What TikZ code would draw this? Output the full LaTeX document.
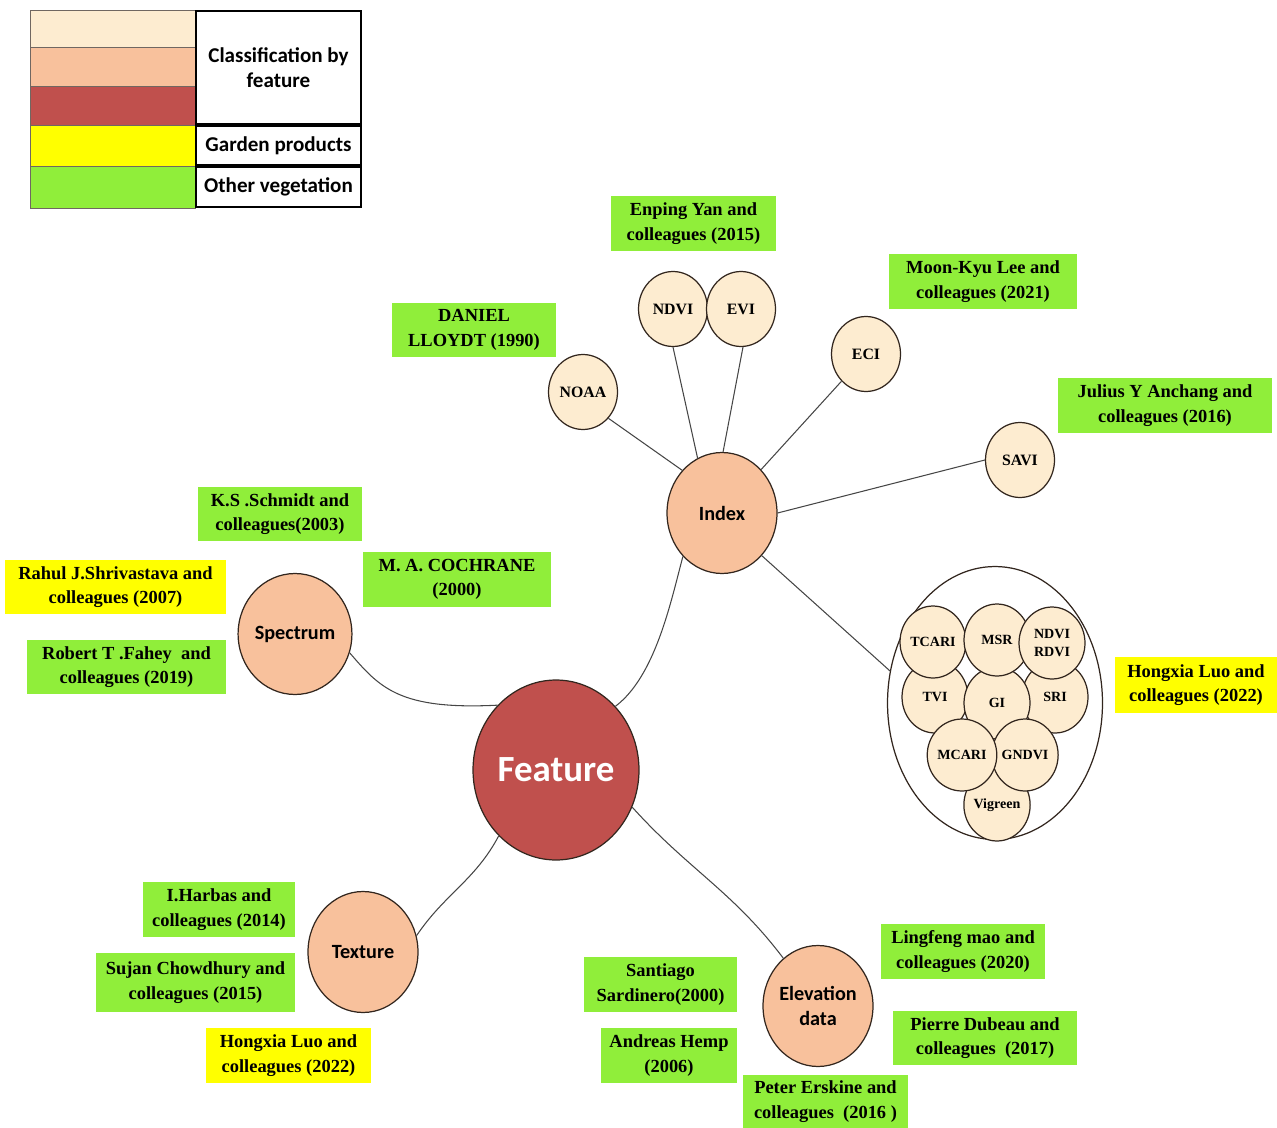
\documentclass[tikz,border=0pt]{standalone}
\usepackage{fontspec}
\setmainfont{Liberation Serif}
\newfontfamily\calib{Carlito}
\usetikzlibrary{shapes.geometric}

\definecolor{cream}{RGB}{253,236,208}
\definecolor{peach}{RGB}{248,193,156}
\definecolor{brick}{RGB}{192,80,77}
\definecolor{leafgreen}{RGB}{144,238,58}
\definecolor{sunyellow}{RGB}{255,255,0}
\definecolor{edge}{RGB}{50,38,30}
\definecolor{linkgray}{RGB}{70,70,70}

\begin{document}
\begin{tikzpicture}[x=0.02cm,y=-0.02cm,
  bubble/.style={ellipse, draw=edge, line width=0.7pt, inner sep=0pt, align=center},
  leaf/.style={bubble, fill=cream, minimum width=1.38cm, minimum height=1.5cm,
    font=\bfseries\fontsize{9}{10}\selectfont},
  subleaf/.style={bubble, fill=cream, minimum width=1.32cm, minimum height=1.44cm,
    font=\bfseries\fontsize{8}{10}\selectfont},
  branch/.style={bubble, fill=peach, minimum width=2.2cm, minimum height=2.42cm,
    font=\calib\bfseries\fontsize{11.5}{14.5}\selectfont},
  ref/.style={inner sep=0pt, align=center, font=\bfseries\fontsize{10.5}{14}\selectfont},
  refg/.style={ref, fill=leafgreen},
  refy/.style={ref, fill=sunyellow},
  swatch/.style={draw=edge!70, line width=0.5pt, minimum width=3.3cm, inner sep=0pt},
  keybox/.style={draw=black, line width=1.6pt, fill=white, minimum width=3.3cm, inner sep=0pt,
    align=center, font=\calib\bfseries\fontsize{12}{14}\selectfont},
  link/.style={draw=linkgray, line width=0.6pt},
]
\useasboundingbox (0,0) rectangle (1277,1128);

% ---- legend ----
\node[swatch, fill=cream,      minimum height=0.74cm] (k1) at (112.5,28.5) {};
\node[swatch, fill=peach,      minimum height=0.78cm] (k2) at (112.5,66.5) {};
\node[swatch, fill=brick,      minimum height=0.78cm] (k3) at (112.5,105.5) {};
\node[swatch, fill=sunyellow,  minimum height=0.82cm] (k4) at (112.5,145.5) {};
\node[swatch, fill=leafgreen,  minimum height=0.84cm] (k5) at (112.5,187) {};
\node[keybox, minimum height=2.26cm] (kc) at (278.5,67.5) {Classification by\\feature};
\node[keybox, minimum height=0.78cm] (kg) at (278.5,145.5) {Garden products};
\node[keybox, minimum height=0.8cm]  (ko) at (278.5,187) {Other vegetation};

% ---- centre and branches ----
\node[bubble, fill=brick, minimum width=3.32cm, minimum height=3.6cm,
      text=white, font=\calib\bfseries\fontsize{21}{24}\selectfont] (feat) at (556,770) {Feature};
\node[branch] (idx)  at (722,513)  {Index};
\node[branch] (sp)   at (295,634)  {Spectrum};
\node[branch] (tex)  at (363,952)  {Texture};
\node[branch] (elev) at (818,1006) {Elevation\\data};

% ---- single indices ----
\node[leaf] (noaa) at (583,392) {NOAA};
\node[leaf] (ndvi) at (673,309) {NDVI};
\node[leaf] (evi)  at (741,309) {EVI};
\node[leaf] (eci)  at (866,354) {ECI};
\node[leaf] (savi) at (1020,460) {SAVI};

% ---- index group ----
\node[ellipse, draw=edge, line width=0.7pt, minimum width=4.3cm, minimum height=5.46cm] (grp) at (995,703) {};
\node[subleaf] (vig)   at (997,805) {Vigreen};
\node[subleaf] (tvi)   at (935,697) {TVI};
\node[subleaf] (sri)   at (1055,697) {SRI};
\node[subleaf] (gi)    at (997,703) {GI};
\node[subleaf] (gndvi) at (1025,755) {GNDVI};
\node[subleaf] (mcari) at (962,755) {MCARI};
\node[subleaf] (tcari) at (933,642) {TCARI};
\node[subleaf] (msr)   at (997,640) {MSR};
\node[subleaf] (nrdvi) at (1052,643) {NDVI\\RDVI};

% ---- connectors ----
\draw[link] (sp.-19) .. controls +(30,35) and +(-98,5) .. (feat.132);
\draw[link] (feat.47) .. controls +(40,-30) and +(-12,45) .. (idx.228);
\draw[link] (feat.229) to[out=-118, in=56] (tex.17);
\draw[link] (feat.-26) to[out=-48, in=127] (elev.126);
\draw[link] (noaa.-46) -- (idx.133);
\draw[link] (ndvi.-90) -- (idx.114);
\draw[link] (evi.-87) -- (idx.89);
\draw[link] (eci.228) -- (idx.48);
\draw[link] (savi.180) -- (idx.0);
\draw[link] (idx.-47) -- (grp.163);

% ---- references ----
\node[refg, minimum width=3.3cm,  minimum height=1.1cm]  (r1)  at (693.5,223.5) {Enping Yan and\\colleagues (2015)};
\node[refg, minimum width=3.76cm, minimum height=1.1cm]  (r2)  at (983,281.5)   {Moon-Kyu Lee and\\colleagues (2021)};
\node[refg, minimum width=3.3cm,  minimum height=1.1cm]  (r3)  at (474,330)     {DANIEL\\LLOYDT (1990)};
\node[refg, minimum width=4.28cm, minimum height=1.1cm]  (r4)  at (1165,405.5)  {Julius Y Anchang and\\colleagues (2016)};
\node[refg, minimum width=3.28cm, minimum height=1.08cm] (r5)  at (280,514)     {K.S .Schmidt and\\colleagues(2003)};
\node[refg, minimum width=3.76cm, minimum height=1.1cm]  (r6)  at (457,579.5)   {M. A. COCHRANE\\(2000)};
\node[refy, minimum width=4.42cm, minimum height=1.08cm] (r7)  at (115.5,587)   {Rahul J.Shrivastava and\\colleagues (2007)};
\node[refg, minimum width=3.98cm, minimum height=1.08cm] (r8)  at (126.5,667)   {Robert T .Fahey\ \ and\\colleagues (2019)};
\node[refy, minimum width=3.24cm, minimum height=1.12cm] (r9)  at (1196,685)    {Hongxia Luo and\\colleagues (2022)};
\node[refg, minimum width=3.04cm, minimum height=1.1cm]  (r10) at (219,909.5)   {I.Harbas and\\colleagues (2014)};
\node[refg, minimum width=3.98cm, minimum height=1.18cm] (r11) at (195.5,982.5) {Sujan Chowdhury and\\colleagues (2015)};
\node[refy, minimum width=3.3cm,  minimum height=1.1cm]  (r12) at (288.5,1055.5){Hongxia Luo and\\colleagues (2022)};
\node[refg, minimum width=3.06cm, minimum height=1.1cm]  (r13) at (660.5,984.5) {Santiago\\Sardinero(2000)};
\node[refg, minimum width=2.72cm, minimum height=1.1cm]  (r14) at (669,1055.5)  {Andreas Hemp\\(2006)};
\node[refg, minimum width=3.3cm,  minimum height=1.06cm] (r15) at (825.5,1101.5){Peter Erskine and\\colleagues\ \ (2016 )};
\node[refg, minimum width=3.28cm, minimum height=1.1cm]  (r16) at (963,951.5)   {Lingfeng mao and\\colleagues (2020)};
\node[refg, minimum width=3.68cm, minimum height=1.08cm] (r17) at (985,1038)    {Pierre Dubeau and\\colleagues\ \ (2017)};
\end{tikzpicture}
\end{document}
